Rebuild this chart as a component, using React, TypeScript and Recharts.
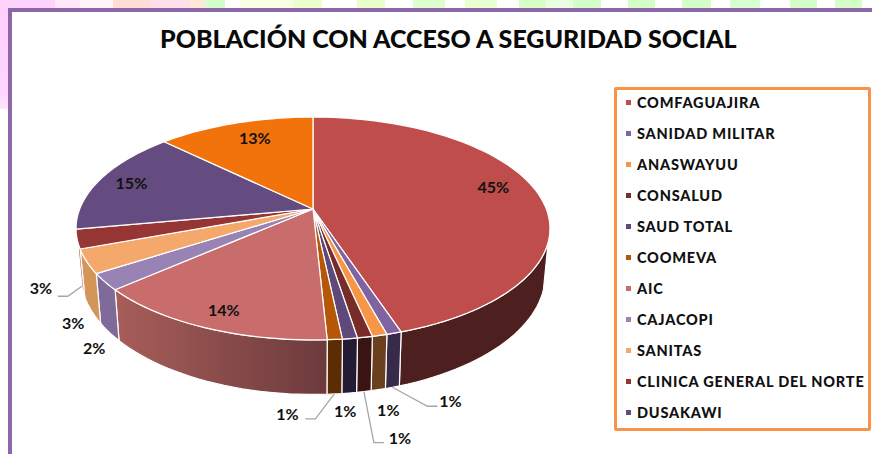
import { PieChart, Pie, Legend } from 'recharts'

const FONT = 'Lato, "Noto Sans", sans-serif'

const names = [
  'COMFAGUAJIRA', 'SANIDAD MILITAR', 'ANASWAYUU', 'CONSALUD', 'SAUD TOTAL', 'COOMEVA',
  'AIC', 'CAJACOPI', 'SANITAS', 'CLINICA GENERAL DEL NORTE', 'DUSAKAWI', '',
]
const values = [44.9, 0.86, 0.86, 0.86, 0.86, 0.86, 14.3, 2.4, 3.45, 2.75, 15.2, 12.7]
const topColors = [
  '#be4d4b', '#8064a2', '#f79646', '#772c2a', '#5f497a', '#b65708',
  '#c96d6c', '#9983b5', '#f5a86b', '#963634', '#654c80', '#f2730c',
]
const sideColors = [
  '#4d1f1f', '#382a4a', '#6b401f', '#3a1413', '#241c35', '#5c2c04',
  'url(#aicSide)', '#7f6a9a', '#d49559', '#a8706a', '#4a3860', '#8a4206',
]

const tableData = names.map((name, i) => ({
  name,
  value: values[i],
  fill: topColors[i],
  side: sideColors[i],
}))

// slide background showing above the frame: [from, to, colour]
const topStrip: [number, number, string][] = [
  [0, 55, '#ffd4fc'], [55, 80, '#ffe8fa'], [80, 113, '#fff4fb'], [113, 150, '#ffdcd4'],
  [150, 190, '#ffe0ea'], [190, 205, '#ffe8d8'], [205, 225, '#d4ffcc'], [240, 293, '#f8ffe4'],
  [293, 322, '#eaffcc'], [357, 385, '#e8ffcc'], [413, 445, '#e0ffd0'], [465, 497, '#e8ffd0'],
  [519, 546, '#d8ffc8'], [546, 573, '#eaffe0'], [573, 601, '#d4ffc8'], [628, 655, '#d4ffc8'],
  [682, 711, '#d4ffc8'], [730, 760, '#d8ffd0'], [790, 817, '#d4ffc8'], [835, 862, '#d4ffc8'],
]

// perspective of the tilted disc, fitted to the picture
const RX = 233.3
const RY = 108
const TILT = 0.175
const DEPTH = 45
const SHRINK = 0.98
const SIDE_FROM = 107
const SIDE_TO = 254

// label nudges from the slice's rim point (outside) or inner point (inside)
const labelShift: Record<number, { dx: number; dy: number; line?: number[][] }> = {
  0: { dx: 0, dy: -9 },
  1: { dx: 58, dy: 13, line: [[35, 19], [45, 19]] },
  2: { dx: 10, dy: 20 },
  3: { dx: 36, dy: 46, line: [[10, 51], [20, 51]] },
  4: { dx: -4, dy: 18 },
  5: { dx: -47, dy: 20, line: [[-19, 25], [-29, 25]] },
  6: { dx: -6, dy: 9 },
  7: { dx: -15, dy: 15 },
  8: { dx: -18, dy: 12 },
  9: { dx: -41, dy: 1, line: [[-14, 10], [-24, 10]] },
  10: { dx: -10, dy: -2 },
  11: { dx: 6, dy: -1 },
}
const OUTSIDE = [1, 2, 3, 4, 5, 7, 8, 9]

const project = (cx: number, cy: number, r: number, deg: number, drop = 0) => {
  const rad = (deg * Math.PI) / 180
  const X = r * Math.sin(rad)
  const Y = -r * Math.cos(rad)
  const w = 1 - TILT * Y
  const shrink = drop ? SHRINK : 1
  return {
    x: cx + (RX * X * shrink) / w,
    y: cy + (RY * Y) / w + (drop ? DEPTH / w : 0),
  }
}

const arc = (cx: number, cy: number, from: number, to: number, drop = 0) => {
  const pts = []
  const n = Math.max(2, Math.ceil(Math.abs(to - from) / 2))
  for (let i = 0; i <= n; i++) {
    const p = project(cx, cy, 1, from + ((to - from) * i) / n, drop)
    pts.push(`${p.x.toFixed(2)},${p.y.toFixed(2)}`)
  }
  return pts
}

const Slice = (props: any) => {
  const { cx, cy, startAngle, endAngle, fill, side, payload } = props
  const a1 = 90 - startAngle
  const a2 = 90 - endAngle
  const from = Math.max(a1, SIDE_FROM)
  const to = Math.min(a2, SIDE_TO)
  const top = arc(cx, cy, a1, a2)
  const sideFill = side ?? payload?.side
  return (
    <g>
      {to > from && (
        <path
          d={`M${arc(cx, cy, from, to).join('L')}L${arc(cx, cy, to, from, 1).join('L')}Z`}
          fill={sideFill}
          stroke="#fff"
          strokeWidth={1.2}
          strokeLinejoin="round"
        />
      )}
      <path
        d={`M${cx},${cy}L${top.join('L')}Z`}
        fill={fill}
        stroke="#fff"
        strokeWidth={1.2}
        strokeLinejoin="round"
      />
    </g>
  )
}

const anchorOf = (props: any) => {
  const { cx, cy, midAngle, index } = props
  const a = 90 - midAngle
  return OUTSIDE.includes(index) ? project(cx, cy, 1, a, 1) : project(cx, cy, 0.8, a)
}

const renderLabel = (props: any) => {
  const { index, percent } = props
  const p = anchorOf(props)
  const s = labelShift[index]
  return (
    <text
      x={p.x + s.dx}
      y={p.y + s.dy}
      textAnchor="middle"
      dominantBaseline="central"
      fontFamily={FONT}
      fontWeight={700}
      fontSize={16}
      fill="#111"
      stroke="none"
    >
      {Math.round(percent * 100)}%
    </text>
  )
}

const renderLine = (props: any) => {
  const s = labelShift[props.index]
  if (!s.line) return <g />
  const p = anchorOf(props)
  const d = [[0, 0], ...s.line].map(([dx, dy]) => `${p.x + dx},${p.y + dy}`).join('L')
  return <path d={`M${d}`} fill="none" stroke="#a6a6a6" strokeWidth={1.3} />
}

const renderLegend = ({ payload }: any) => (
  <div
    style={{
      boxSizing: 'border-box',
      width: 257,
      height: 344,
      border: '3px solid #f9934a',
      borderRadius: 2,
      background: '#fff',
    }}
  >
    {(payload ?? [])
      .filter((entry: any) => entry.value)
      .map((entry: any) => (
        <div
          key={entry.value}
          style={{
            position: 'relative',
            top: -3,
            height: 31,
            display: 'flex',
            alignItems: 'center',
            fontFamily: FONT,
            fontWeight: 900,
            fontSize: 14.5,
            letterSpacing: 0.8,
            color: '#111',
            whiteSpace: 'nowrap',
          }}
        >
          <span style={{ width: 5, height: 5, marginLeft: 9, marginRight: 6, background: entry.color }} />
          {entry.value}
        </div>
      ))}
  </div>
)

export default function App() {
  return (
    <div style={{ position: 'fixed', left: 0, top: 0, width: 872, height: 454, background: '#fff', overflow: 'hidden' }}>
      <div style={{ position: 'absolute', left: 0, top: 0, width: 8, height: 109, background: 'linear-gradient(#ffd0ff, #ffd4ff 85%, #ffe4ff)' }} />
      {topStrip.map(([from, to, colour]) => (
        <div key={from} style={{ position: 'absolute', left: from, top: 0, width: to - from, height: 8, background: colour }} />
      ))}
      {/* chart frame */}
      <div style={{ position: 'absolute', left: 8, top: 8, width: 864, height: 446, boxSizing: 'border-box', borderLeft: '4px solid #8b67a8', borderTop: '4px solid #8b67a8' }} />
      <div
        style={{
          position: 'absolute',
          left: 160,
          top: 23,
          width: 575,
          textAlign: 'center',
          fontFamily: FONT,
          fontWeight: 900,
          fontSize: 25,
          letterSpacing: 0,
          color: '#0a0a0a',
          whiteSpace: 'nowrap',
        }}
      >
        POBLACIÓN CON ACCESO A SEGURIDAD SOCIAL
      </div>
      <div style={{ position: 'absolute', left: 0, top: 0 }}>
        <PieChart width={872} height={454} margin={{ top: 0, right: 0, bottom: 0, left: 0 }}>
          <defs>
            <linearGradient id="aicSide" gradientUnits="userSpaceOnUse" x1="118" y1="0" x2="328" y2="0">
              <stop offset="0%" stopColor="#a75d59" />
              <stop offset="100%" stopColor="#6c3a3c" />
            </linearGradient>
          </defs>
          <Pie
            data={tableData}
            dataKey="value"
            nameKey="name"
            cx={313}
            cy={209}
            outerRadius={233}
            startAngle={90}
            endAngle={-270}
            isAnimationActive={false}
            shape={Slice}
            label={renderLabel}
            labelLine={renderLine}
            stroke="#fff"
          />
          <Legend
            content={renderLegend}
            layout="vertical"
            align="right"
            verticalAlign="top"
            itemSorter={null}
            wrapperStyle={{ left: 614, top: 87, width: 257, height: 344 }}
          />
        </PieChart>
      </div>
    </div>
  )
}
